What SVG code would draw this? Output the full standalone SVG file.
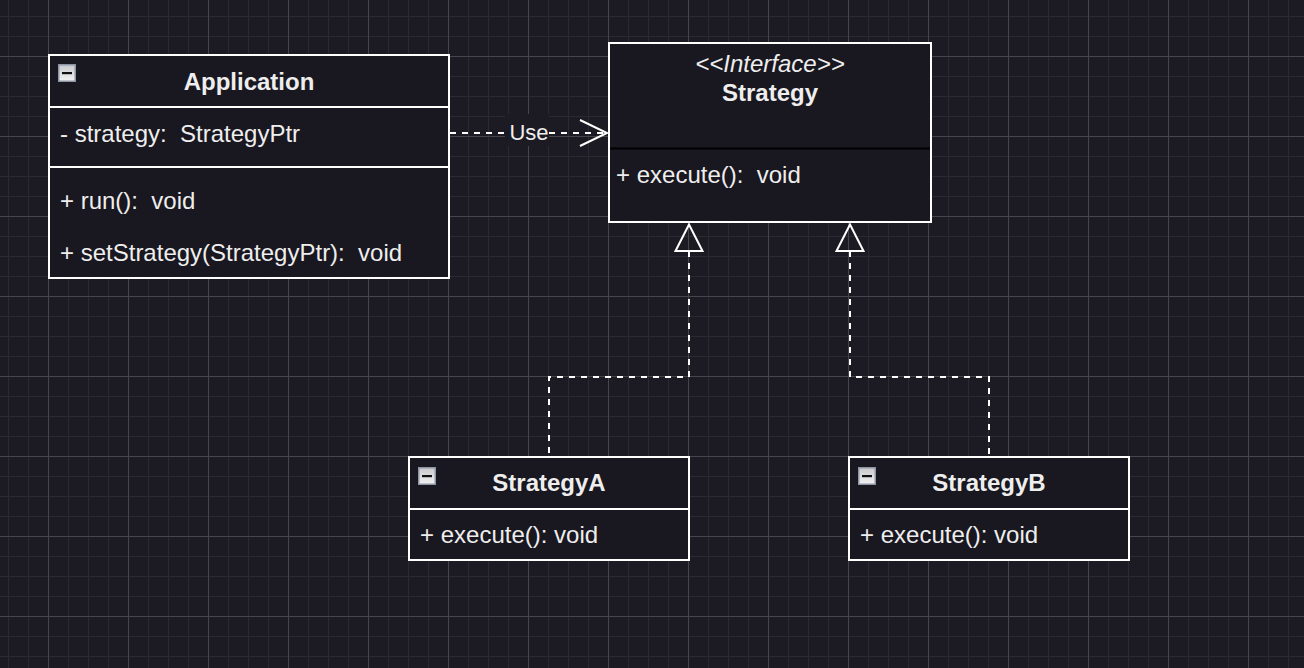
<svg xmlns="http://www.w3.org/2000/svg" xmlns:xlink="http://www.w3.org/1999/xlink" width="1304" height="668" viewBox="0 0 1304 668">
  <style>
    .box { fill: #19171f; stroke: #ffffff; stroke-width: 2; }
    .sep { stroke: #ffffff; stroke-width: 2; }
    .txt { font-family: "Liberation Sans", Arial, Helvetica, sans-serif; font-size: 24px; fill: #eeeeee; }
    .title { font-weight: bold; text-anchor: middle; }
    .ital { font-style: italic; text-anchor: middle; }
    .edge { fill: none; stroke: #ffffff; stroke-width: 2; stroke-dasharray: 6 6; }
    .head { fill: none; stroke: #ffffff; stroke-width: 2; }
  </style>
  <defs>
    <pattern id="grid" x="8" y="16" width="80" height="80" patternUnits="userSpaceOnUse">
      <path d="M0.5 0V80M20.5 0V80M60.5 0V80M0 0.5H80M0 20.5H80M0 60.5H80" stroke="#2b2931" stroke-width="1"/>
      <path d="M40.5 0V80M0 40.5H80" stroke="#47454c" stroke-width="1"/>
    </pattern>
    <linearGradient id="iconFill" x1="0" y1="0" x2="0" y2="1">
      <stop offset="0" stop-color="#c9c9cc"/>
      <stop offset="1" stop-color="#f2f2f2"/>
    </linearGradient>
    <g id="collapse">
      <rect x="0.75" y="0.75" width="16.5" height="16.5" fill="url(#iconFill)" stroke="#8d95a5" stroke-width="1.5"/>
      <rect x="4" y="8" width="10" height="2.2" fill="#111111"/>
    </g>
  </defs>

  <!-- canvas -->
  <rect width="1304" height="668" fill="#1c1a22"/>
  <rect width="1304" height="668" fill="url(#grid)"/>

  <!-- connectors -->
  <g id="connectors">
    <!-- Application uses Strategy -->
    <path class="edge" d="M450 133H505M549 133H606"/>
    <polyline class="head" points="580,120 607,133 580,146"/>
    <rect x="505" y="114" width="44" height="32" fill="#1c1a22"/>
    <text class="txt" x="529" y="140" font-size="22" text-anchor="middle" style="font-size:22px">Use</text>
    <!-- StrategyA realizes Strategy -->
    <path class="edge" d="M689 251V377H549V457"/>
    <polygon class="head" points="689,224.5 675.5,251 702.5,251"/>
    <!-- StrategyB realizes Strategy -->
    <path class="edge" d="M850 251V377H989V457"/>
    <polygon class="head" points="850,224.5 836.5,251 863.5,251"/>
  </g>

  <!-- Application class -->
  <g id="application">
    <rect class="box" x="49" y="55" width="400" height="223"/>
    <line class="sep" x1="49" y1="107" x2="449" y2="107"/>
    <line class="sep" x1="49" y1="167" x2="449" y2="167"/>
    <use xlink:href="#collapse" x="58" y="64"/>
    <text class="txt title" x="249" y="90">Application</text>
    <text class="txt" x="60" y="142">- strategy: &#160;StrategyPtr</text>
    <text class="txt" x="60" y="209">+ run(): &#160;void</text>
    <text class="txt" x="60" y="261">+ setStrategy(StrategyPtr): &#160;void</text>
  </g>

  <!-- Strategy interface -->
  <g id="strategy">
    <rect class="box" x="609" y="43" width="322" height="179"/>
    <line x1="610" y1="148.5" x2="930" y2="148.5" stroke="#000000" stroke-width="2"/>
    <text class="txt ital" x="770" y="72">&lt;&lt;Interface&gt;&gt;</text>
    <text class="txt title" x="770" y="101">Strategy</text>
    <text class="txt" x="616" y="183">+ execute(): &#160;void</text>
  </g>

  <!-- StrategyA class -->
  <g id="strategyA">
    <rect class="box" x="409" y="457" width="280" height="103"/>
    <line class="sep" x1="409" y1="509" x2="689" y2="509"/>
    <use xlink:href="#collapse" x="418" y="467"/>
    <text class="txt title" x="549" y="491">StrategyA</text>
    <text class="txt" x="420" y="543">+ execute(): void</text>
  </g>

  <!-- StrategyB class -->
  <g id="strategyB">
    <rect class="box" x="849" y="457" width="280" height="103"/>
    <line class="sep" x1="849" y1="509" x2="1129" y2="509"/>
    <use xlink:href="#collapse" x="858" y="467"/>
    <text class="txt title" x="989" y="491">StrategyB</text>
    <text class="txt" x="860" y="543">+ execute(): void</text>
  </g>
</svg>
